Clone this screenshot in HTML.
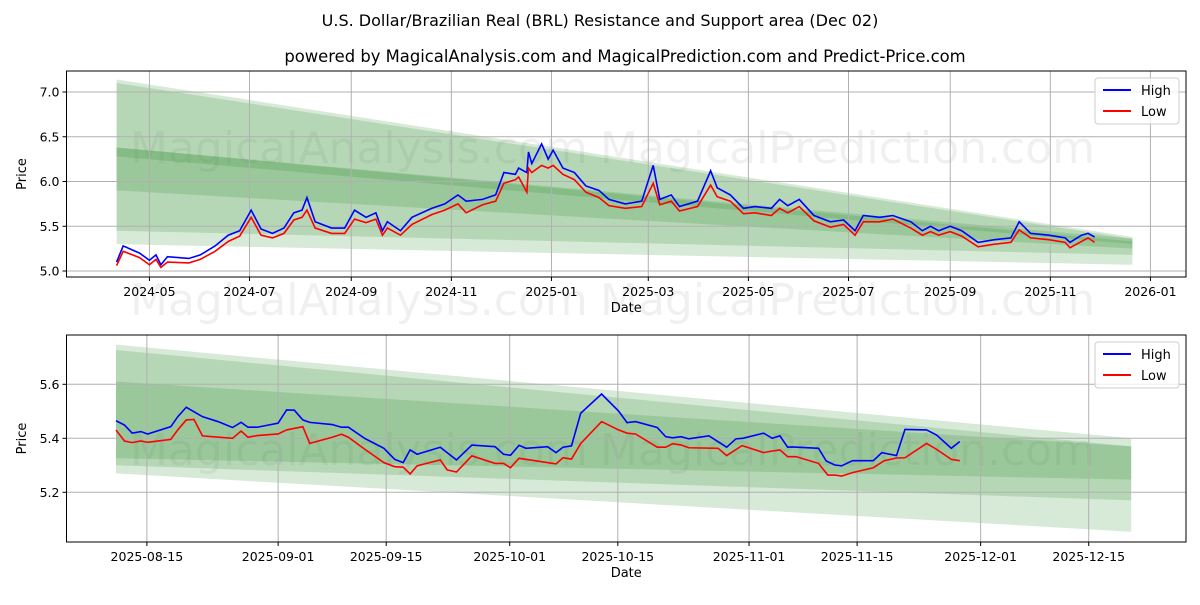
<!DOCTYPE html>
<html><head><meta charset="utf-8"><style>
body{margin:0;background:#fff;width:1200px;height:600px;overflow:hidden}
svg text{font-family:"DejaVu Sans","Liberation Sans",sans-serif}
</style></head><body>
<svg id="c" width="1200" height="600" xmlns="http://www.w3.org/2000/svg">
<rect width="1200" height="600" fill="#fff"/>
<text x="600" y="26" font-size="16" text-anchor="middle">U.S. Dollar/Brazilian Real (BRL) Resistance and Support area (Dec 02)</text>
<text x="625" y="62" font-size="16.4" text-anchor="middle">powered by MagicalAnalysis.com and MagicalPrediction.com and Predict-Price.com</text>
<g id="top"></g>
<g id="bot"></g>
</svg>
<script>
// ---- top chart data (days since 2024-04-11) ----
const topDays=[0,4,14,20,24,27,31,44,51,60,68,75,82,88,95,102,108,113,116,121,131,139,145,152,158,162,165,173,180,192,200,208,213,223,231,236,243,245,250,251,253,259,263,266,272,279,286,294,300,310,320,327,331,338,343,354,362,366,374,382,389,399,404,409,416,425,435,443,450,455,465,473,484,491,496,501,508,515,525,535,545,550,557,568,578,581,588,592,596];
const topHigh=[5.10,5.28,5.20,5.12,5.18,5.07,5.16,5.14,5.18,5.28,5.40,5.45,5.68,5.47,5.42,5.48,5.65,5.68,5.82,5.55,5.48,5.48,5.68,5.60,5.65,5.45,5.55,5.45,5.60,5.70,5.75,5.85,5.78,5.80,5.85,6.10,6.08,6.15,6.10,6.33,6.20,6.42,6.25,6.35,6.15,6.10,5.95,5.90,5.80,5.75,5.78,6.18,5.80,5.85,5.72,5.78,6.12,5.93,5.85,5.70,5.72,5.70,5.80,5.73,5.80,5.62,5.55,5.57,5.45,5.62,5.60,5.62,5.55,5.45,5.50,5.45,5.50,5.45,5.32,5.35,5.37,5.55,5.42,5.40,5.37,5.32,5.40,5.42,5.38];
const topLow=[5.06,5.22,5.15,5.07,5.13,5.04,5.10,5.09,5.13,5.22,5.33,5.39,5.60,5.40,5.37,5.42,5.57,5.60,5.68,5.48,5.42,5.42,5.58,5.54,5.58,5.40,5.48,5.40,5.52,5.63,5.68,5.75,5.65,5.74,5.78,5.98,6.02,6.05,5.88,6.15,6.10,6.18,6.15,6.18,6.08,6.02,5.88,5.82,5.73,5.70,5.72,5.98,5.74,5.78,5.67,5.72,5.96,5.83,5.78,5.64,5.65,5.62,5.70,5.65,5.72,5.56,5.49,5.52,5.40,5.55,5.55,5.58,5.48,5.40,5.44,5.40,5.44,5.39,5.27,5.30,5.32,5.46,5.37,5.35,5.32,5.26,5.33,5.37,5.32];
const topYTicks=[5.0,5.5,6.0,6.5,7.0];
const topXTickLabels=["2024-05","2024-07","2024-09","2024-11","2025-01","2025-03","2025-05","2025-07","2025-09","2025-11","2026-01"];
const topXTickDays=[20,81,143,204,265,324,385,446,508,569,630];
// bands: [startTop,startBottom,endTop,endBottom]
const topBands=[[7.14,5.30,5.38,5.07],[7.10,5.45,5.36,5.18],[6.38,5.90,5.33,5.25],[6.38,6.28,5.36,5.30]];
const topBandEnd=619;
// ---- bottom chart data (days since 2025-08-11) ----
const botDays=[0,1.1,2.1,3.2,4.1,7.1,8.0,9.1,11.2,13.2,15.1,16.2,17.1,18.3,21.0,22.1,23.1,24.2,25.1,28.0,29.2,30.1,32.2,34.7,36.1,37.2,38.1,39.0,42.0,44.1,46.1,49.1,50.2,51.1,52.2,53.1,55.9,57.0,57.9,59.0,60.2,62.9,65.1,66.2,67.3,70.1,71.2,72.1,73.2,74.2,76.8,79.1,80.3,81.2,83.9,85.0,86.0,87.0,87.6,91.0,92.0,93.1,94.0,95.4,98.1,99.2,101.1,102.2,105.0,106.3,108.2,109.3];
const botHigh=[5.465,5.449,5.419,5.425,5.416,5.443,5.480,5.515,5.480,5.462,5.440,5.459,5.441,5.441,5.456,5.505,5.504,5.468,5.459,5.451,5.441,5.441,5.400,5.363,5.322,5.310,5.357,5.341,5.367,5.320,5.375,5.369,5.341,5.337,5.374,5.363,5.369,5.347,5.367,5.372,5.493,5.564,5.501,5.458,5.462,5.440,5.406,5.402,5.406,5.398,5.409,5.367,5.398,5.400,5.419,5.400,5.409,5.367,5.368,5.363,5.316,5.301,5.298,5.317,5.317,5.347,5.336,5.433,5.431,5.412,5.363,5.388];
const botLowDays=[0,1.1,2.1,3.2,4.1,7.1,8.0,9.1,10.1,11.2,15.1,16.2,17.1,18.3,21.0,22.1,24.2,25.1,28.0,29.2,30.1,32.2,34.7,36.1,37.2,38.1,39.0,42.0,42.9,44.1,46.1,49.1,50.2,51.1,52.2,57.0,57.9,59.0,60.2,62.9,65.1,66.2,67.3,70.1,71.2,72.1,73.2,74.2,78.0,79.1,81.1,83.9,85.0,86.0,87.0,88.1,91.0,92.2,93.1,94.0,95.4,98.1,99.5,101.1,102.2,105.0,106.3,108.2,109.3];
const botLow=[5.431,5.390,5.384,5.390,5.385,5.396,5.431,5.468,5.470,5.409,5.400,5.427,5.404,5.410,5.416,5.431,5.443,5.381,5.404,5.415,5.404,5.360,5.310,5.295,5.293,5.268,5.298,5.320,5.283,5.275,5.335,5.307,5.307,5.291,5.326,5.305,5.328,5.323,5.381,5.462,5.431,5.419,5.416,5.367,5.367,5.380,5.375,5.365,5.363,5.336,5.373,5.347,5.353,5.357,5.332,5.332,5.307,5.264,5.264,5.260,5.273,5.291,5.317,5.327,5.328,5.381,5.359,5.322,5.317];
const botYTicks=[5.2,5.4,5.6];
const botXTickLabels=["2025-08-15","2025-09-01","2025-09-15","2025-10-01","2025-10-15","2025-11-01","2025-11-15","2025-12-01","2025-12-15"];
const botXTickDays=[4,21,35,51,65,82,96,112,126];
const botBands=[[5.747,5.27,5.40,5.054],[5.727,5.30,5.37,5.17],[5.61,5.326,5.37,5.247]];
const botBandEnd=131.5;

const NS="http://www.w3.org/2000/svg";
function mk(p,tag,at){const e=document.createElementNS(NS,tag);for(const k in at)e.setAttribute(k,at[k]);p.appendChild(e);return e;}

function draw(g,cfg){
  const {L,R,T,B,x,y}=cfg;
  cfg.wm.forEach(w=>{const t=mk(g,'text',{x:w[0],y:w[1],'font-size':44,fill:'#000','fill-opacity':0.06});t.textContent=w[2];
    
    });
  cfg.bands.forEach(b=>{const x0=x(0),x1=x(cfg.bandEnd);
    const p=mk(g,'polygon',{points:`${x0},${y(b[0])} ${x1},${y(b[2])} ${x1},${y(b[3])} ${x0},${y(b[1])}`,fill:'#2a8a2a','fill-opacity':0.19});
    
    });
  cfg.xtd.forEach((d,i)=>{const xx=x(d);
    const l=mk(g,'line',{x1:xx,x2:xx,y1:T,y2:B,stroke:'#b0b0b0','stroke-width':1});
    
    
    mk(g,'line',{x1:xx,x2:xx,y1:B,y2:B+4,stroke:'#000'});
    const t=mk(g,'text',{x:xx,y:B+19,'font-size':12.5,'text-anchor':'middle'});t.textContent=cfg.xtl[i];
    
    });
  cfg.yt.forEach(v=>{const yy=y(v);
    const l=mk(g,'line',{x1:L,x2:R,y1:yy,y2:yy,stroke:'#b0b0b0','stroke-width':1});
    
    
    mk(g,'line',{x1:L-4,x2:L,y1:yy,y2:yy,stroke:'#000'});
    const t=mk(g,'text',{x:L-7,y:yy+4.5,'font-size':12.5,'text-anchor':'end'});t.textContent=v.toFixed(1);
    
    });
  const hp=cfg.hd.map((d,i)=>x(d)+','+y(cfg.h[i])).join(' ');
  const lp=cfg.ld.map((d,i)=>x(d)+','+y(cfg.l[i])).join(' ');
  const hl=mk(g,'polyline',{points:hp,fill:'none',stroke:'#0000ff','stroke-width':1.6});
  
  
  const ll=mk(g,'polyline',{points:lp,fill:'none',stroke:'#ff0000','stroke-width':1.6});
  
  
  const f=mk(g,'rect',{x:L,y:T,width:R-L,height:B-T,fill:'none',stroke:'#000','stroke-width':1});
  
  
  const xl=mk(g,'text',{x:(L+R)/2,y:B+35,'font-size':13,'text-anchor':'middle'});xl.textContent='Date';
  
  
  const yl=mk(g,'text',{x:0,y:0,'font-size':13,'text-anchor':'middle',transform:`translate(26,${(T+B)/2}) rotate(-90)`});yl.textContent='Price';
  
  
  const lg=mk(g,'g',{});
  
  
  mk(lg,'rect',{x:R-91,y:T+7,width:84,height:46,rx:3,fill:'#fff','fill-opacity':0.8,stroke:'#ccc'});
  [['High','#0000ff',0],['Low','#ff0000',21]].forEach(e=>{
    const it=mk(lg,'g',{});
    
    
    mk(it,'line',{x1:R-83,x2:R-55,y1:T+19+e[2],y2:T+19+e[2],stroke:e[1],'stroke-width':2});
    const t=mk(it,'text',{x:R-45,y:T+24+e[2],'font-size':13});t.textContent=e[0];});
}
const tL=66.5,tR=1186;
draw(document.getElementById('top'),{L:tL,R:tR,T:71,B:277,
  x:d=>116.6+d*1.641,y:v=>271-(v-5.0)*89.5,
  bands:topBands,bandEnd:topBandEnd,xtd:topXTickDays,xtl:topXTickLabels,yt:topYTicks,
  hd:topDays,h:topHigh,ld:topDays,l:topLow,
  wm:[[130,163,'MagicalAnalysis.com'],[600,163,'MagicalPrediction.com'],[130,315,'MagicalAnalysis.com'],[600,315,'MagicalPrediction.com']]});
draw(document.getElementById('bot'),{L:tL,R:tR,T:335,B:542,
  x:d=>116+d*7.72,y:v=>438.3-(v-5.4)*270,
  bands:botBands,bandEnd:botBandEnd,xtd:botXTickDays,xtl:botXTickLabels,yt:botYTicks,
  hd:botDays,h:botHigh,ld:botLowDays,l:botLow,
  wm:[[130,465,'MagicalAnalysis.com'],[600,465,'MagicalPrediction.com']]});
</script>
</body></html>
